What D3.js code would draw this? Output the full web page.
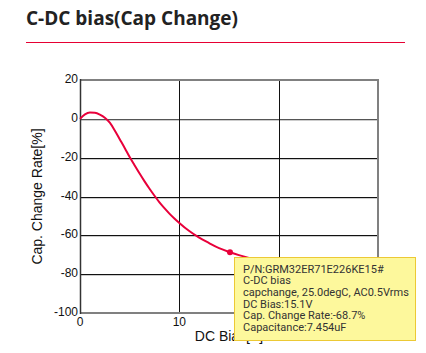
<!doctype html>
<html lang="en">
<head>
    <meta charset="utf-8">
    <title>C-DC bias(Cap Change)</title>
    <script src="https://d3js.org/d3.v7.min.js"></script>
    <style type="text/css">
        body { margin: 0; background: #fff; }
        svg text { font-family: "Liberation Sans", Arial, sans-serif; }
    </style>
</head>

<body>
</body>

<script type="text/javascript">

    // DC bias [V] vs capacitance change [%]
    var bias   = [0, 0.5, 1, 1.5, 2, 2.5, 3, 3.5, 4, 4.5, 5, 5.5, 6, 6.5, 7, 7.5, 8, 8.5, 9, 9.5,
                  10, 11, 12, 13, 14, 15.1, 16, 17, 18, 20, 22, 25];
    var change = [0, 2.3, 3.2, 3.1, 2.2, 0.6, -2, -6, -10.5, -15, -19.7, -24, -28.2, -32.2, -36, -39.6,
                  -43, -46, -48.8, -51.3, -53.6, -57.8, -61.2, -64, -66.6, -68.7, -70.2, -71.6, -72.8,
                  -74.8, -76.4, -78];

    var xTicks = [0, 10, 20, 30];
    var yTicks = [20, 0, -20, -40, -60, -80, -100];

    var tipPoint = {x: 15.1, y: -68.7};
    var tipLines = ["P/N:GRM32ER71E226KE15#",
                    "C-DC bias",
                    "capchange, 25.0degC, AC0.5Vrms",
                    "DC Bias:15.1V",
                    "Cap. Change Rate:-68.7%",
                    "Capacitance:7.454uF"];

    var width  = 426;
    var height = 353;
    var pLeft = 80, pRight = 378, pTop = 80, pBottom = 313;

    var xScale = d3.scaleLinear().domain([0, 30]).range([pLeft, pRight]);
    var yScale = d3.scaleLinear().domain([-100, 20]).range([pBottom, pTop]);

    var svg = d3.select("body")
                .append("svg")
                .attr("width", width)
                .attr("height", height);

    // header
    svg.append("text")
       .attr("x", 26)
       .attr("y", 25)
       .style("font-family", "'Open Sans', sans-serif")
       .style("font-weight", "bold")
       .style("font-size", "19px")
       .style("fill", "#222")
       .text("C-DC bias(Cap Change)");

    svg.append("line")
       .attr("x1", 26).attr("x2", 405)
       .attr("y1", 42.5).attr("y2", 42.5)
       .style("stroke", "#e60033")
       .style("stroke-width", 1);

    // horizontal grid (dark line with a light shadow underneath)
    var inner = yTicks.filter((d)=>d != 20 && d != -100);
    svg.selectAll(".hshadow").data(inner).enter().append("line")
       .attr("x1", pLeft).attr("x2", pRight)
       .attr("y1", (d)=>Math.round(yScale(d)) + 1.5)
       .attr("y2", (d)=>Math.round(yScale(d)) + 1.5)
       .style("stroke", "#ccc");
    svg.selectAll(".hgrid").data(inner).enter().append("line")
       .attr("x1", pLeft).attr("x2", pRight)
       .attr("y1", (d)=>Math.round(yScale(d)) + 0.5)
       .attr("y2", (d)=>Math.round(yScale(d)) + 0.5)
       .style("stroke", (d)=>d == 0 ? "#555" : "#111");

    // vertical grid
    svg.selectAll(".vgrid").data(xTicks.filter((d)=>d > 0 && d < 30)).enter().append("line")
       .attr("x1", (d)=>Math.round(xScale(d)) + 0.5)
       .attr("x2", (d)=>Math.round(xScale(d)) + 0.5)
       .attr("y1", pTop).attr("y2", pBottom)
       .style("stroke", "#111");

    // frame
    svg.append("line").attr("x1", pLeft).attr("x2", pRight + 1).attr("y1", pTop).attr("y2", pTop)
       .style("stroke", "#808080").style("stroke-width", 2);
    svg.append("line").attr("x1", pRight).attr("x2", pRight).attr("y1", pTop).attr("y2", pBottom + 1)
       .style("stroke", "#808080").style("stroke-width", 2);
    svg.append("line").attr("x1", pLeft).attr("x2", pRight + 1).attr("y1", pBottom).attr("y2", pBottom)
       .style("stroke", "#808080").style("stroke-width", 2);
    svg.append("line").attr("x1", pLeft + 0.5).attr("x2", pLeft + 0.5).attr("y1", pTop - 1).attr("y2", pBottom + 1)
       .style("stroke", "#333").style("stroke-width", 1.5);

    // tick labels
    svg.selectAll(".ylab").data(yTicks).enter().append("text")
       .attr("x", pLeft - 2)
       .attr("y", (d)=>yScale(d) + 3)
       .attr("text-anchor", "end")
       .style("font-size", "12px")
       .style("fill", "#111")
       .text((d)=>d);

    svg.selectAll(".xlab").data(xTicks.filter((d)=>d < 30)).enter().append("text")
       .attr("x", (d)=>xScale(d))
       .attr("y", pBottom + 13)
       .attr("text-anchor", "middle")
       .style("font-size", "12px")
       .style("fill", "#111")
       .text((d)=>d);

    // axis titles
    svg.append("text")
       .attr("transform", "translate(42," + ((pTop + pBottom) / 2) + ") rotate(-90)")
       .attr("text-anchor", "middle")
       .style("font-size", "14px")
       .style("fill", "#111")
       .text("Cap. Change Rate[%]");

    svg.append("text")
       .attr("x", (pLeft + pRight) / 2)
       .attr("y", 341)
       .attr("text-anchor", "middle")
       .style("font-size", "14px")
       .style("fill", "#111")
       .text("DC Bias[V]");

    // curve
    var pts = bias.map((d, i)=>[d, change[i]]);
    var line = d3.line()
                 .x((d)=>xScale(d[0]))
                 .y((d)=>yScale(d[1]))
                 .curve(d3.curveMonotoneX);

    svg.append("path")
       .datum(pts)
       .attr("d", line)
       .style("fill", "none")
       .style("stroke", "#e8003a")
       .style("stroke-width", 2);

    svg.append("circle")
       .attr("cx", xScale(tipPoint.x))
       .attr("cy", yScale(tipPoint.y))
       .attr("r", 3)
       .style("fill", "#e8003a");

    // tooltip
    var tip = svg.append("g").attr("transform", "translate(234,257)");
    tip.append("rect")
       .attr("x", 0.5).attr("y", 0.5)
       .attr("width", 181).attr("height", 83)
       .style("fill", "#fdf89c")
       .style("stroke", "#ecc935")
       .style("stroke-width", 1);
    tip.selectAll("text").data(tipLines).enter().append("text")
       .attr("x", 9)
       .attr("y", (d, i)=>15.5 + i * 11.7)
       .style("font-family", "Roboto, 'Liberation Sans', sans-serif")
       .style("font-size", "11px")
       .style("fill", "#333")
       .text((d)=>d);

</script>

</html>
